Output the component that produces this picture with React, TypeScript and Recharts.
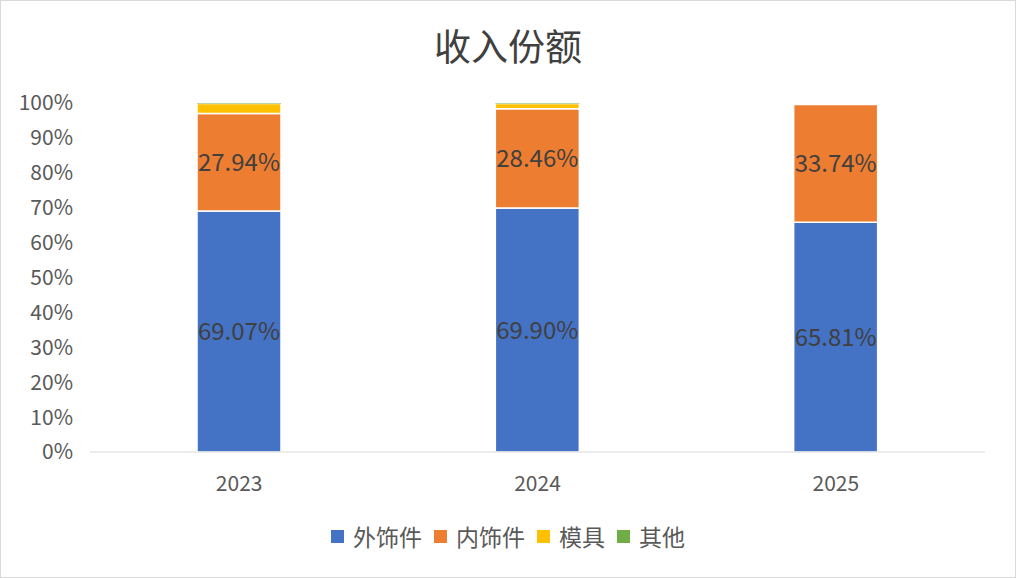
import React from 'react';
import { BarChart, Bar, XAxis, YAxis, LabelList } from 'recharts';

const years = ['2023', '2024', '2025'];
const exterior = [69.07, 69.9, 65.81];
const interior = [27.94, 28.46, 33.74];
const molds = [2.85, 1.5, 0];
const others = [0.14, 0.14, 0];
const yTicks = [0, 10, 20, 30, 40, 50, 60, 70, 80, 90, 100];

const series = [
  { key: '外饰件', color: '#4472c4' },
  { key: '内饰件', color: '#ed7d31' },
  { key: '模具', color: '#ffc000' },
  { key: '其他', color: '#70ad47' },
];

const data = years.map((year, i) => ({
  year,
  外饰件: exterior[i],
  内饰件: interior[i],
  模具: molds[i],
  其他: others[i],
}));

const FONT = '"Noto Sans CJK SC", "Noto Sans", sans-serif';

const fmt = (v: any) => `${Number(v).toFixed(2)}%`;

const App = () => {
  return (
    <div
      style={{
        position: 'absolute',
        left: 0,
        top: 0,
        width: 1016,
        height: 578,
        background: '#fff',
        boxSizing: 'border-box',
        border: '1px solid #d9d9d9',
        fontFamily: FONT,
      }}
    >
      <div
        style={{
          position: 'absolute',
          top: 19,
          left: 0,
          width: '100%',
          textAlign: 'center',
          fontSize: 37,
          color: '#404040',
          lineHeight: '50px',
        }}
      >
        收入份额
      </div>
      <div style={{ position: 'absolute', left: -1, top: -1 }}>
        <BarChart
          width={1016}
          height={578}
          data={data}
          margin={{ top: 103, right: 31, left: 0, bottom: 96 }}
          barSize={84}
        >
          <XAxis
            dataKey="year"
            axisLine={{ stroke: '#d9d9d9' }}
            tickLine={false}
            tick={{ fontSize: 21, fill: '#595959', fontFamily: FONT }}
            tickMargin={18}
          />
          <YAxis
            width={90}
            domain={[0, 100]}
            ticks={yTicks}
            axisLine={false}
            tickLine={false}
            tickSize={0}
            tickMargin={17}
            tickFormatter={(v) => `${v}%`}
            tick={{ fontSize: 21, fill: '#595959', fontFamily: FONT }}
          />
          <Bar dataKey="外饰件" stackId="a" fill="#4472c4" stroke="#fff" strokeWidth={1.5} isAnimationActive={false}>
            <LabelList dataKey="外饰件" position="center" formatter={fmt} fill="#404040" fontSize={24} fontFamily={FONT} />
          </Bar>
          <Bar dataKey="内饰件" stackId="a" fill="#ed7d31" stroke="#fff" strokeWidth={1.5} isAnimationActive={false}>
            <LabelList dataKey="内饰件" position="center" formatter={fmt} fill="#404040" fontSize={24} fontFamily={FONT} />
          </Bar>
          <Bar dataKey="模具" stackId="a" fill="#ffc000" stroke="#fff" strokeWidth={1.5} isAnimationActive={false} />
          <Bar dataKey="其他" stackId="a" fill="#70ad47" isAnimationActive={false} />
        </BarChart>
      </div>
      <div
        style={{
          position: 'absolute',
          top: 519,
          left: 0,
          width: '100%',
          display: 'flex',
          justifyContent: 'center',
          alignItems: 'center',
          fontSize: 23,
          color: '#595959',
          lineHeight: '32px',
        }}
      >
        {series.map((s) => (
          <span key={s.key} style={{ display: 'flex', alignItems: 'center', margin: '0 6px' }}>
            <span style={{ width: 13, height: 13, background: s.color, display: 'inline-block', marginRight: 9 }} />
            {s.key}
          </span>
        ))}
      </div>
    </div>
  );
};

export default App;
